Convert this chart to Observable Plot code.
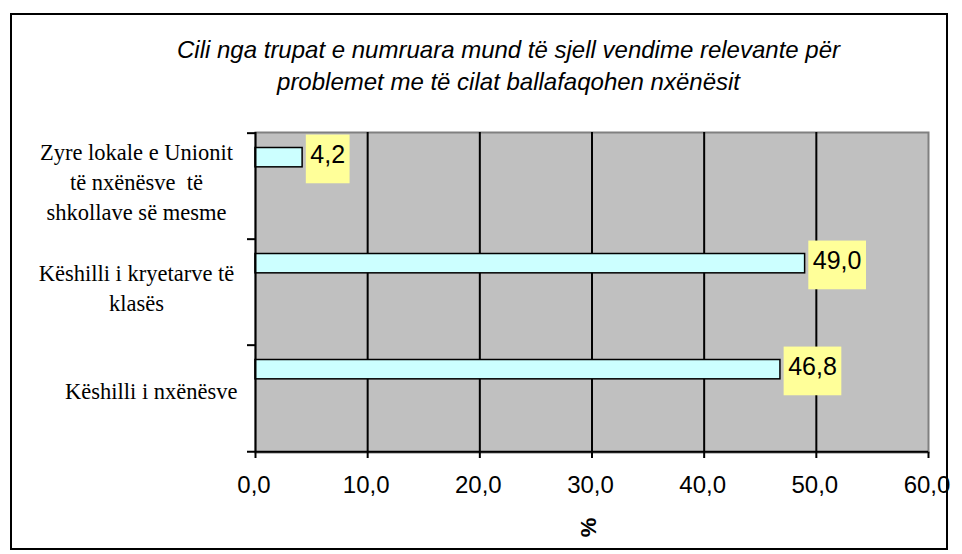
<!DOCTYPE html>
<html><head><meta charset="utf-8">
<script src="https://cdn.jsdelivr.net/npm/d3@7"></script>
<script src="https://cdn.jsdelivr.net/npm/@observablehq/plot@0.6"></script>
<style>
body{margin:0;background:#fff;}
#wrap{position:relative;width:962px;height:554px;overflow:hidden;}
#border{position:absolute;left:10px;top:13px;width:938px;height:537px;border:2px solid #000;box-sizing:border-box;pointer-events:none;}
</style></head><body><div id="wrap"><div id="chart"></div><div id="border"></div></div>
<script>
// Data (top to bottom)
const categories = [
  "Zyre lokale e Unionit\ntë nxënësve  të\nshkollave së mesme",
  "Këshilli i kryetarve të\nklasës",
  "Këshilli i nxënësve"
];
const values = [4.2, 49.0, 46.8];
const xTicks = [0, 10, 20, 30, 40, 50, 60];
const titleText = "Cili nga trupat e numruara mund të sjell vendime relevante për\nproblemet me të cilat ballafaqohen nxënësit";
const xLabel = "%";

const fmt = d => d.toFixed(1).replace(".", ",");
const data = categories.map((c, i) => ({cat: c, value: values[i], multi: c.includes("\n")}));

const W = 962, H = 554, mL = 255, mR = 34, mT = 132, mB = 102;
const bw = (H - mT - mB) / categories.length;
const last = categories[categories.length - 1];

const chart = Plot.plot({
  width: W, height: H,
  marginLeft: mL, marginRight: mR, marginTop: mT, marginBottom: mB,
  style: {background: "transparent", fontFamily: "Arial, 'Liberation Sans', sans-serif", overflow: "visible"},
  x: {domain: [0, 60], label: null, axis: null},
  y: {domain: categories, padding: 0, label: null, axis: null},
  marks: [
    Plot.frame({fill: "#c0c0c0", stroke: "#808080", strokeWidth: 2}),
    Plot.ruleX(xTicks.slice(1, -1), {stroke: "#000", strokeWidth: 2}),
    Plot.barX(data, {x: "value", y: "cat", fill: "#ccffff", stroke: "#000", strokeWidth: 1.5,
      insetTop: 14.5, insetBottom: bw - 34.5}),
    Plot.ruleX([0], {stroke: "#000", strokeWidth: 2}),
    // category boundary ticks
    Plot.ruleY(categories, {y: d => d, x1: 0, x2: 0, insetLeft: -8, dy: -bw / 2, stroke: "#000", strokeWidth: 2}),
    // bottom axis line
    Plot.ruleY([last], {y: d => d, insetLeft: -8, dy: bw / 2, stroke: "#000", strokeWidth: 2}),
    // x ticks
    Plot.tickX(xTicks, {x: d => d, y: () => last, insetTop: bw, insetBottom: -7, stroke: "#000", strokeWidth: 2}),
    Plot.text(xTicks, {x: d => d, frameAnchor: "bottom", text: d => fmt(d), dx: -1.5, dy: 33, fontSize: 24, fill: "#000", lineAnchor: "middle"}),
    // y labels
    Plot.text(data.filter(d => d.multi), {y: "cat", text: "cat", frameAnchor: "left", textAnchor: "middle",
      dx: -119, dy: -6.4, fontFamily: "'Liberation Serif', 'Times New Roman', serif", fontSize: 22.5, lineHeight: 1.33, fill: "#000"}),
    Plot.text(data.filter(d => !d.multi), {y: "cat", text: "cat", frameAnchor: "left", textAnchor: "end",
      dx: -18, dy: -6.4, fontFamily: "'Liberation Serif', 'Times New Roman', serif", fontSize: 22.5, fill: "#000"}),
    // value labels
    Plot.text(data, {x: "value", y: "cat", text: d => fmt(d.value), textAnchor: "start", dx: 7.7, dy: -bw / 2 + 21.8,
      fontSize: 25, fill: "#000", className: "vlabel", ariaLabel: "vlabel"}),
    // title
    Plot.text([titleText], {frameAnchor: "top", text: d => d, dx: -83.5, dy: -68.7, lineAnchor: "middle",
      fontSize: 24, fontStyle: "italic", lineHeight: 1.33, fill: "#000"}),
    // axis label
    Plot.text([xLabel], {frameAnchor: "bottom", text: d => d, dx: 4, dy: 75, rotate: -90, fontSize: 22,
      fontWeight: "bold", fill: "#000"})
  ]
});
document.getElementById("chart").appendChild(chart);

// yellow background boxes behind the value labels
const texts = new Set([...chart.querySelectorAll(".vlabel text, g[aria-label='vlabel'] text")]);
texts.forEach(t => {
  const b = t.getBBox();
  const r = document.createElementNS("http://www.w3.org/2000/svg", "rect");
  r.setAttribute("x", b.x - 4.5);
  r.setAttribute("y", b.y - 5.4);
  r.setAttribute("width", b.width + 9);
  r.setAttribute("height", 48.7);
  r.setAttribute("fill", "#ffff99");
  if (t.getAttribute("transform")) r.setAttribute("transform", t.getAttribute("transform"));
  t.parentNode.insertBefore(r, t);
});
</script>
</body></html>
